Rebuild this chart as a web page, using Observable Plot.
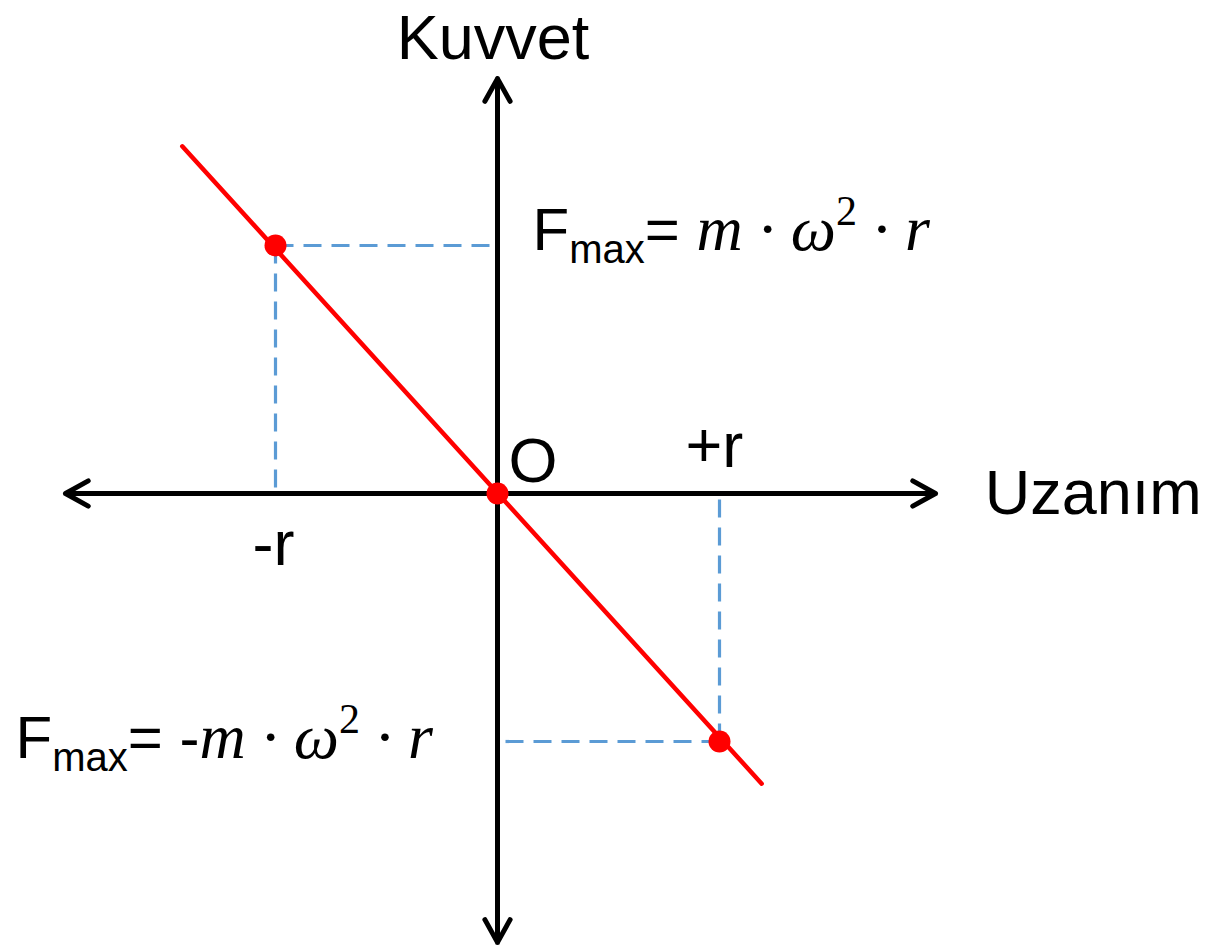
<!DOCTYPE html>
<html>
<head>
<meta charset="utf-8">
<script src="https://cdn.jsdelivr.net/npm/d3@7"></script>
<script src="https://cdn.jsdelivr.net/npm/@observablehq/plot@0.6"></script>
<style>
  html, body { margin: 0; padding: 0; background: #fff; }
  svg { display: block; }
</style>
</head>
<body>
<div id="chart"></div>
<script>
// ---- data (units: r on x axis, Fmax on y axis) ----
const pointX = [-1, 0, 1];
const pointY = [1, 0, -1];
const lineX = [-1.42, 1.19];
const lineY = [1.40, -1.17];
// axis arrow ends (from origin outward)
const axisEndX = [-1.946, 1.973, 0, 0];
const axisEndY = [0, 0, 1.673, -1.81];
// dashed guide segments: from point to axis
const guideX1 = [-1, -1, 1, 1];
const guideY1 = [1, 1, -1, -1];
const guideX2 = [-1, 0, 1, 0];
const guideY2 = [0, 1, 0, -1];
// labels
const labelText = ["Kuvvet", "Uzanım", "O", "+r", "-r"];
const labelX = [-0.02, 2.195, 0.05, 0.977, -1.009];
const labelY = [1.754, -0.081, 0.048, 0.105, -0.29];
const labelAnchor = ["middle", "start", "start", "middle", "middle"];
// formulas: [F, sub, eq, math, sup, math]
const formulaParts = [
  ["F", "max", "= ", "m · ω", "2", " · r"],
  ["F", "max", "= -", "m · ω", "2", " · r"]
];
const formulaX = [0.158, -2.171];
const formulaY = [0.98, -1.065];

// ---- build tables ----
const points = pointX.map((x, i) => ({x, y: pointY[i]}));
const redLine = lineX.map((x, i) => ({x, y: lineY[i]}));
const axes = axisEndX.map((x, i) => ({x1: 0, y1: 0, x2: x, y2: axisEndY[i]}));
const guides = guideX1.map((x, i) => ({x1: x, y1: guideY1[i], x2: guideX2[i], y2: guideY2[i]}));
const labels = labelText.map((t, i) => ({t, x: labelX[i], y: labelY[i], a: labelAnchor[i]}));
const formulas = formulaParts.map((p, i) => ({t: p.join(""), parts: p, x: formulaX[i], y: formulaY[i]}));

const W = 1225, H = 947;
const sans = "Liberation Sans, Arial, sans-serif";
const serif = "Liberation Serif, DejaVu Serif, serif";
const FS = 63;

const svg = Plot.plot({
  width: W, height: H,
  margin: 0,
  style: {background: "#fff"},
  x: {domain: [-497 / 222, 728 / 222], axis: null},
  y: {domain: [-454 / 248, 493 / 248], axis: null},
  marks: [
    Plot.link(guides, {x1: "x1", y1: "y1", x2: "x2", y2: "y2",
      stroke: "#5B9BD5", strokeWidth: 3.2, strokeDasharray: "18,10"}),
    Plot.arrow(axes, {x1: "x1", y1: "y1", x2: "x2", y2: "y2", bend: 0,
      stroke: "#000", strokeWidth: 5, headLength: 7.8, headAngle: 58,
      strokeLinecap: "round", strokeLinejoin: "round", insetStart: 0, insetEnd: 0}),
    Plot.line(redLine, {x: "x", y: "y", stroke: "#FF0000", strokeWidth: 4.5}),
    Plot.dot(points, {x: "x", y: "y", r: 11, fill: "#FF0000", stroke: "none"}),
    ...["start", "middle"].map(a =>
      Plot.text(labels.filter(d => d.a === a), {x: "x", y: "y", text: "t",
        textAnchor: a, lineAnchor: "bottom", fontSize: FS, fontFamily: sans, fill: "#000"})),
    Plot.text(formulas, {x: "x", y: "y", text: "t", textAnchor: "start",
      lineAnchor: "bottom", fontSize: FS, fontFamily: sans, fill: "#000"})
  ]
});

// rich-text formulas: subscript, italic math and superscript
const NS = "http://www.w3.org/2000/svg";
svg.querySelectorAll("text").forEach(el => {
  const f = formulas.find(d => d.t === el.textContent);
  if (!f) return;
  el.textContent = "";
  const styles = [
    {family: sans, size: 60, dy: 0},
    {family: sans, size: 40, dy: 13},
    {family: sans, size: 60, dy: -13},
    {family: serif, size: 64, dy: 0, italic: true},
    {family: serif, size: 42, dy: -25},
    {family: serif, size: 64, dy: 25, italic: true}
  ];
  f.parts.forEach((p, i) => {
    const s = styles[i];
    const ts = document.createElementNS(NS, "tspan");
    ts.setAttribute("font-family", s.family);
    ts.setAttribute("font-size", s.size);
    if (s.dy) ts.setAttribute("dy", s.dy);
    if (s.italic) ts.setAttribute("font-style", "italic");
    ts.style.whiteSpace = "pre";
    ts.textContent = p;
    el.appendChild(ts);
  });
});

document.getElementById("chart").appendChild(svg);
</script>
</body>
</html>
